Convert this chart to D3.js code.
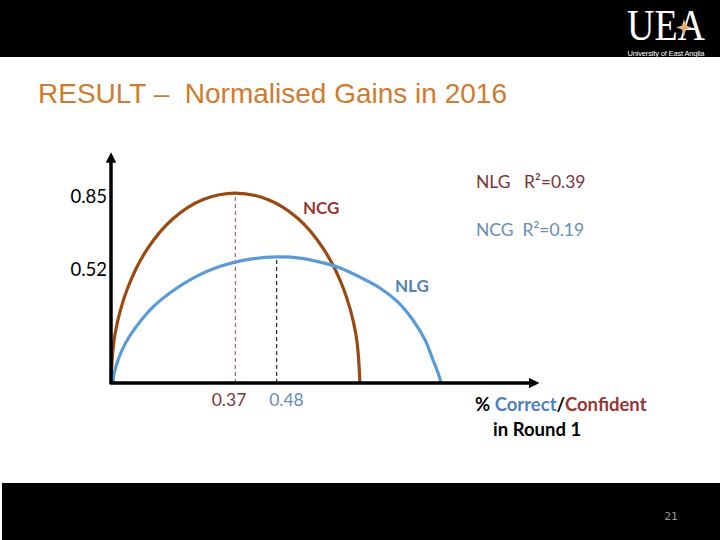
<!DOCTYPE html>
<html>
<head>
<meta charset="utf-8">
<script src="https://cdn.jsdelivr.net/npm/d3@7"></script>
<style>
  body { margin: 0; background: #fff; }
  svg { display: block; }
</style>
</head>
<body>
<div id="chart"></div>
<script>
// curve points (x = % correct/confident, y = normalised gain)
var ncgX = [0, 0.012, 0.049, 0.107, 0.183, 0.271, 0.366, 0.461, 0.550, 0.625, 0.683, 0.720, 0.732];
var ncgY = [0, 0.22, 0.425, 0.60, 0.736, 0.821, 0.85, 0.821, 0.736, 0.60, 0.425, 0.22, 0];

var nlgX = [0.006, 0.008, 0.016, 0.030, 0.054, 0.088, 0.126, 0.175, 0.247, 0.319, 0.392, 0.488,
            0.556, 0.615, 0.674, 0.732, 0.791, 0.844, 0.888, 0.924, 0.947, 0.962, 0.971];
var nlgY = [0, 0.035, 0.081, 0.139, 0.208, 0.280, 0.344, 0.405, 0.474, 0.521, 0.550, 0.564,
            0.559, 0.541, 0.515, 0.474, 0.425, 0.362, 0.282, 0.192, 0.103, 0.045, 0];

// peaks (drop lines) and labels
var peakX = [0.37, 0.48];
var peakY = [0.85, 0.564];
var yTickValues = [0.85, 0.52];
var xTickLabels = ["0.37", "0.48"];
var fitLabels = ["NLG   R\u00b2=0.39", "NCG  R\u00b2=0.19"];

var svgWidth = 720;
var svgHeight = 540;

var svg = d3.select("#chart")
  .append("svg")
  .attr("width", svgWidth)
  .attr("height", svgHeight);

// slide header / footer bars
svg.append("rect").attr("x", 0).attr("y", 0).attr("width", 720).attr("height", 57).attr("fill", "#000");
svg.append("rect").attr("x", 2).attr("y", 483).attr("width", 718).attr("height", 57).attr("fill", "#000");

// UEA logo
var logo = svg.append("g");
logo.append("text")
  .attr("x", 666).attr("y", 40)
  .attr("text-anchor", "middle")
  .attr("font-family", "Liberation Serif")
  .attr("font-size", 44)
  .attr("fill", "#fff")
  .attr("textLength", 78)
  .attr("lengthAdjust", "spacingAndGlyphs")
  .text("UEA");
logo.append("path")
  .attr("d", "M684,19 L686,25.5 L692,27.5 L686,29.5 L684,36 L682,29.5 L676,27.5 L682,25.5 Z")
  .attr("fill", "#e8b070");
logo.append("text")
  .attr("x", 666).attr("y", 56)
  .attr("text-anchor", "middle")
  .attr("font-family", "Liberation Sans")
  .attr("font-size", 7.5)
  .attr("fill", "#fff")
  .attr("textLength", 77)
  .text("University of East Anglia");

// page number
svg.append("text")
  .attr("x", 671).attr("y", 520)
  .attr("text-anchor", "middle")
  .attr("font-family", "DejaVu Sans Mono")
  .attr("font-size", 11)
  .attr("fill", "#999")
  .text("21");

// title
svg.append("text")
  .attr("x", 38).attr("y", 103)
  .attr("font-family", "Liberation Sans")
  .attr("font-size", 28)
  .attr("fill", "#cf7b2f")
  .attr("xml:space", "preserve")
  .text("RESULT \u2013  Normalised Gains in 2016");

// scales
var x = d3.scaleLinear().domain([0, 1]).range([111, 451]);
var y = d3.scaleLinear().domain([0, 1]).range([383, 159.5]);

var chartGroup = svg.append("g");

// drop lines from the peaks
chartGroup.append("line")
  .attr("x1", x(peakX[0]) - 1.5).attr("x2", x(peakX[0]) - 1.5)
  .attr("y1", y(0)).attr("y2", y(peakY[0]))
  .attr("stroke", "#8b4a4a").attr("stroke-width", 1)
  .attr("stroke-dasharray", "4,3");
chartGroup.append("line")
  .attr("x1", x(peakX[1]) + 2.5).attr("x2", x(peakX[1]) + 2.5)
  .attr("y1", y(0)).attr("y2", y(peakY[1]))
  .attr("stroke", "#000").attr("stroke-width", 1)
  .attr("stroke-dasharray", "4,3");

// curves
var line = d3.line()
  .x(d => x(d[0]))
  .y(d => y(d[1]))
  .curve(d3.curveCatmullRom.alpha(0.5));

chartGroup.append("path")
  .datum(d3.zip(ncgX, ncgY))
  .attr("d", line)
  .attr("fill", "none")
  .attr("stroke", "#984a12")
  .attr("stroke-width", 3.2);

chartGroup.append("path")
  .datum(d3.zip(nlgX, nlgY))
  .attr("d", line)
  .attr("fill", "none")
  .attr("stroke", "#5b9bd5")
  .attr("stroke-width", 3.2);

// axes with arrow heads
var defs = svg.append("defs");
defs.append("marker")
  .attr("id", "arrow")
  .attr("viewBox", "0 0 10 10")
  .attr("refX", 2).attr("refY", 5)
  .attr("markerWidth", 3).attr("markerHeight", 3)
  .attr("orient", "auto")
  .append("path")
  .attr("d", "M0,0 L10,5 L0,10 Z")
  .attr("fill", "#000");

chartGroup.append("line")
  .attr("x1", x(0)).attr("x2", x(0))
  .attr("y1", y(0) + 1.5).attr("y2", y(0.995))
  .attr("stroke", "#000").attr("stroke-width", 3.5)
  .attr("marker-end", "url(#arrow)");

chartGroup.append("line")
  .attr("x1", x(0)).attr("x2", x(1.235))
  .attr("y1", y(0)).attr("y2", y(0))
  .attr("stroke", "#000").attr("stroke-width", 3.5)
  .attr("marker-end", "url(#arrow)");

// y tick labels
chartGroup.selectAll(".ytick")
  .data(yTickValues)
  .enter()
  .append("text")
  .attr("class", "ytick")
  .attr("x", 107)
  .attr("y", d => y(d) + 3)
  .attr("dy", "0.35em")
  .attr("text-anchor", "end")
  .attr("font-family", "Lato")
  .attr("font-size", 18.5)
  .attr("fill", "#000")
  .text(d => d.toFixed(2));

// x tick labels
chartGroup.append("text")
  .attr("x", x(peakX[0]) + 9.5).attr("y", 400)
  .attr("dy", "0.35em")
  .attr("text-anchor", "end")
  .attr("font-family", "Lato").attr("font-size", 17.5)
  .attr("fill", "#7a3838")
  .text(xTickLabels[0]);
chartGroup.append("text")
  .attr("x", x(peakX[1]) - 5).attr("y", 400)
  .attr("dy", "0.35em")
  .attr("font-family", "Lato").attr("font-size", 17.5)
  .attr("fill", "#6a8db8")
  .text(xTickLabels[1]);

// series labels
chartGroup.append("text")
  .attr("x", 303).attr("y", 208).attr("dy", "0.35em")
  .attr("font-family", "Lato").attr("font-size", 17).attr("font-weight", "bold")
  .attr("fill", "#953735")
  .text("NCG");
chartGroup.append("text")
  .attr("x", 395).attr("y", 286).attr("dy", "0.35em")
  .attr("font-family", "Lato").attr("font-size", 17).attr("font-weight", "bold")
  .attr("fill", "#4f81bd")
  .text("NLG");

// fit labels
chartGroup.append("text")
  .attr("x", 476).attr("y", 182).attr("dy", "0.35em")
  .attr("xml:space", "preserve")
  .attr("font-family", "Lato").attr("font-size", 17.5)
  .attr("fill", "#7b3535")
  .text(fitLabels[0]);
chartGroup.append("text")
  .attr("x", 476).attr("y", 230).attr("dy", "0.35em")
  .attr("xml:space", "preserve")
  .attr("font-family", "Lato").attr("font-size", 17.5)
  .attr("fill", "#6a8db8")
  .text(fitLabels[1]);

// x axis title
var xt = chartGroup.append("text")
  .attr("x", 475).attr("y", 405).attr("dy", "0.35em")
  .attr("font-family", "Lato").attr("font-size", 18.5).attr("font-weight", "bold")
  .attr("fill", "#000");
xt.append("tspan").text("% ");
xt.append("tspan").attr("fill", "#4f81bd").text("Correct");
xt.append("tspan").text("/");
xt.append("tspan").attr("fill", "#953735").text("Confident");

chartGroup.append("text")
  .attr("x", 493).attr("y", 430).attr("dy", "0.35em")
  .attr("font-family", "Lato").attr("font-size", 18.5).attr("font-weight", "bold")
  .attr("fill", "#000")
  .text("in Round 1");
</script>
</body>
</html>
